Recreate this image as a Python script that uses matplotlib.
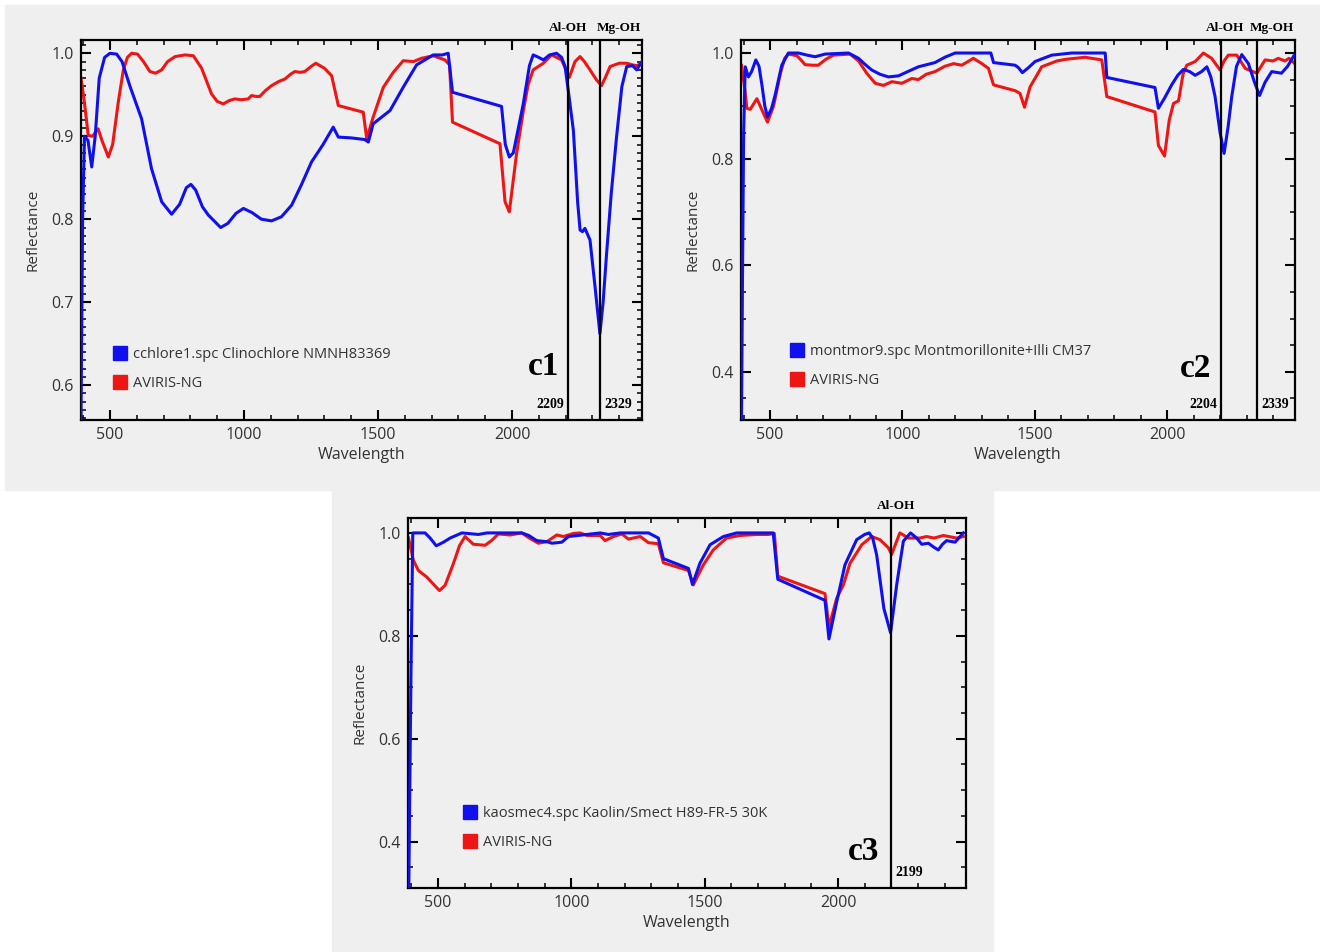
import matplotlib
matplotlib.use("Agg")
import matplotlib.pyplot as plt
from matplotlib.lines import Line2D
from matplotlib.patches import Rectangle
from matplotlib.ticker import MultipleLocator, FormatStrFormatter
import matplotlib.transforms as mtransforms

# ---- c1: Clinochlore ----
c1_lib_w = [392, 398, 405, 418, 432, 445, 460, 480, 500, 525, 545, 575, 618, 655, 693, 730,
            760, 785, 802, 820, 845, 867, 913, 940, 970, 998, 1030, 1065, 1103, 1140, 1178,
            1215, 1252, 1295, 1333, 1352, 1400, 1451, 1464, 1482, 1545, 1594, 1644, 1706,
            1740, 1762, 1778, 1961, 1975, 1990, 2005, 2042, 2065, 2079, 2100, 2117, 2140,
            2166, 2185, 2198, 2212, 2229, 2245, 2254, 2263, 2272, 2291, 2310, 2328, 2340,
            2353, 2370, 2390, 2410, 2428, 2450, 2465, 2485]
c1_lib_r = [0.56, 0.80, 0.90, 0.895, 0.863, 0.90, 0.97, 0.995, 1.0, 0.999, 0.99, 0.96, 0.921,
            0.861, 0.821, 0.806, 0.818, 0.838, 0.842, 0.835, 0.815, 0.805, 0.79, 0.795, 0.807,
            0.813, 0.808, 0.80, 0.798, 0.803, 0.817, 0.842, 0.869, 0.89, 0.911, 0.899, 0.898,
            0.896, 0.893, 0.915, 0.931, 0.959, 0.986, 0.998, 0.998, 1.0, 0.953, 0.936, 0.89,
            0.875, 0.88, 0.939, 0.985, 0.998, 0.995, 0.992, 0.998, 1.0, 0.995, 0.984, 0.95,
            0.907, 0.82, 0.787, 0.785, 0.789, 0.775, 0.718, 0.662, 0.70, 0.759, 0.83, 0.899,
            0.96, 0.984, 0.985, 0.98, 0.99]
c1_img_w = [392, 405, 419, 435, 456, 470, 494, 510, 531, 550, 565, 581, 603, 625, 649, 670,
            693, 715, 743, 780, 811, 842, 879, 900, 923, 945, 966, 990, 1016, 1028, 1045,
            1059, 1080, 1103, 1130, 1153, 1175, 1190, 1210, 1227, 1250, 1268, 1300, 1327,
            1352, 1445, 1458, 1482, 1520, 1557, 1594, 1632, 1663, 1706, 1750, 1767, 1778,
            1955, 1974, 1982, 1990, 2017, 2042, 2060, 2079, 2117, 2148, 2185, 2214, 2235,
            2254, 2270, 2291, 2315, 2334, 2350, 2366, 2400, 2428, 2450, 2465, 2485]
c1_img_r = [0.97, 0.94, 0.901, 0.90, 0.909, 0.895, 0.875, 0.89, 0.941, 0.98, 0.995, 1.0,
            0.999, 0.99, 0.978, 0.976, 0.98, 0.99, 0.996, 0.998, 0.997, 0.982, 0.951, 0.942,
            0.939, 0.943, 0.945, 0.944, 0.945, 0.949, 0.948, 0.948, 0.955, 0.961, 0.966,
            0.969, 0.975, 0.978, 0.977, 0.978, 0.984, 0.988, 0.982, 0.973, 0.937, 0.929,
            0.897, 0.923, 0.959, 0.977, 0.991, 0.99, 0.994, 0.997, 0.992, 0.986, 0.917,
            0.891, 0.821, 0.815, 0.809, 0.879, 0.93, 0.962, 0.98, 0.988, 0.998, 0.992,
            0.971, 0.99, 0.996, 0.99, 0.98, 0.968, 0.961, 0.972, 0.984, 0.988, 0.988,
            0.986, 0.985, 0.988]

# ---- c2: Montmorillonite ----
c2_lib_w = [392, 396, 400, 406, 418, 430, 446, 458, 469, 480, 490, 505, 519, 544, 569, 607,
            640, 670, 708, 796, 834, 860, 884, 915, 947, 985, 1020, 1060, 1123, 1160, 1199,
            1334, 1344, 1426, 1439, 1453, 1475, 1501, 1564, 1640, 1766, 1772, 1954, 1967,
            1990, 2017, 2040, 2061, 2085, 2106, 2130, 2150, 2165, 2181, 2200, 2215, 2230,
            2244, 2262, 2282, 2307, 2330, 2349, 2370, 2395, 2432, 2455, 2480]
c2_lib_r = [0.31, 0.60, 0.85, 0.974, 0.955, 0.965, 0.987, 0.975, 0.94, 0.90, 0.88, 0.895,
            0.921, 0.977, 1.0, 1.0, 0.996, 0.993, 0.998, 1.0, 0.99, 0.978, 0.968, 0.96,
            0.955, 0.957, 0.965, 0.974, 0.982, 0.992, 1.0, 1.0, 0.982, 0.977, 0.972, 0.963,
            0.972, 0.984, 0.996, 1.0, 1.0, 0.954, 0.935, 0.896, 0.915, 0.94, 0.958, 0.969,
            0.965, 0.958, 0.965, 0.974, 0.955, 0.918, 0.85, 0.811, 0.86, 0.918, 0.975,
            0.997, 0.98, 0.945, 0.92, 0.945, 0.965, 0.962, 0.975, 0.996]
c2_img_w = [392, 405, 412, 425, 450, 469, 490, 513, 538, 555, 569, 601, 620, 632, 660, 682,
            710, 739, 802, 834, 865, 897, 928, 960, 998, 1035, 1060, 1090, 1123, 1160, 1193,
            1224, 1268, 1300, 1325, 1344, 1426, 1444, 1461, 1482, 1526, 1583, 1615, 1652,
            1690, 1715, 1753, 1772, 1954, 1967, 1990, 2008, 2024, 2043, 2060, 2074, 2106,
            2137, 2168, 2200, 2215, 2231, 2263, 2295, 2339, 2370, 2400, 2420, 2445, 2460,
            2480]
c2_img_r = [0.977, 0.93, 0.896, 0.894, 0.914, 0.893, 0.87, 0.90, 0.96, 0.99, 0.998, 0.995,
            0.985, 0.978, 0.977, 0.977, 0.988, 0.996, 0.998, 0.985, 0.962, 0.943, 0.939,
            0.946, 0.943, 0.952, 0.95, 0.96, 0.965, 0.975, 0.98, 0.977, 0.99, 0.98, 0.971,
            0.94, 0.929, 0.924, 0.898, 0.936, 0.974, 0.985, 0.988, 0.99, 0.992, 0.99, 0.987,
            0.918, 0.889, 0.826, 0.806, 0.874, 0.905, 0.91, 0.96, 0.977, 0.984, 1.0, 0.99,
            0.968, 0.985, 0.996, 0.996, 0.971, 0.962, 0.987, 0.985, 0.99, 0.985, 0.99, 0.981]

# ---- c3: Kaolin/Smectite ----
c3_lib_w = [390, 398, 405, 451, 470, 493, 520, 545, 589, 651, 683, 814, 840, 870, 908, 927,
            964, 989, 1058, 1108, 1139, 1183, 1289, 1326, 1345, 1439, 1454, 1482, 1520,
            1570, 1620, 1757, 1774, 1951, 1966, 1995, 2026, 2070, 2100, 2117, 2130, 2145,
            2172, 2197, 2220, 2245, 2272, 2295, 2314, 2339, 2360, 2376, 2392, 2407, 2439,
            2470]
c3_lib_r = [0.31, 0.72, 1.0, 1.0, 0.99, 0.975, 0.982, 0.99, 1.0, 0.997, 1.0, 1.0, 0.995,
            0.985, 0.983, 0.98, 0.982, 0.993, 0.997, 1.0, 0.997, 1.0, 1.0, 0.99, 0.95, 0.931,
            0.90, 0.941, 0.977, 0.993, 1.0, 1.0, 0.91, 0.869, 0.794, 0.866, 0.938, 0.987,
            0.997, 1.0, 0.99, 0.957, 0.853, 0.806, 0.899, 0.984, 1.0, 0.99, 0.978, 0.98,
            0.972, 0.967, 0.978, 0.985, 0.982, 1.0]
c3_img_w = [389, 407, 426, 458, 483, 505, 526, 557, 580, 601, 632, 676, 700, 726, 770, 814,
            839, 876, 908, 945, 970, 1008, 1033, 1058, 1108, 1126, 1158, 1189, 1214, 1258,
            1289, 1326, 1345, 1439, 1457, 1495, 1532, 1582, 1632, 1695, 1739, 1761, 1774,
            1951, 1966, 1995, 2020, 2045, 2089, 2126, 2157, 2189, 2201, 2220, 2232, 2264,
            2307, 2332, 2360, 2395, 2445, 2470]
c3_img_r = [0.99, 0.947, 0.927, 0.914, 0.90, 0.888, 0.898, 0.94, 0.975, 0.993, 0.978, 0.976,
            0.985, 0.998, 0.996, 1.0, 0.991, 0.98, 0.983, 0.996, 0.993, 0.999, 1.0, 0.995,
            0.995, 0.985, 0.993, 0.998, 0.988, 0.993, 0.981, 0.979, 0.942, 0.927, 0.899,
            0.938, 0.967, 0.99, 0.995, 0.997, 0.997, 0.999, 0.916, 0.882, 0.817, 0.873,
            0.899, 0.941, 0.977, 0.993, 0.987, 0.971, 0.958, 0.984, 1.0, 0.99, 0.99, 0.993,
            0.99, 0.995, 0.99, 0.993]

lib_labels = ["cchlore1.spc Clinochlore NMNH83369",
              "montmor9.spc Montmorillonite+Illi CM37",
              "kaosmec4.spc Kaolin/Smect H89-FR-5 30K"]
img_label = "AVIRIS-NG"
panel_names = ["c1", "c2", "c3"]

# absorption features: (wavelength, name, name x position, number side)
c1_features = [(2209, "Al-OH", 2209, "left"), (2329, "Mg-OH", 2400, "right")]
c2_features = [(2204, "Al-OH", 2219, "left"), (2339, "Mg-OH", 2397, "right")]
c3_features = [(2199, "Al-OH", 2217, "right")]

BG = "#efefef"
SANS = "Open Sans"
SERIF = "Liberation Serif"

W, H = 1320, 952
fig = plt.figure(figsize=(W / 100, H / 100), dpi=100, facecolor="white")

# gray panel backgrounds
fig.add_artist(Rectangle((5 / W, 1 - 490 / H), 1 - 5 / W, 485 / H,
                         transform=fig.transFigure, color=BG, zorder=-10))
fig.add_artist(Rectangle((332 / W, 0), 661 / W, 1 - 490 / H,
                         transform=fig.transFigure, color=BG, zorder=-10))


def make_panel(box, lib_w, lib_r, img_w, img_r, lib_label, name, features,
               xlim, ylim, ymaj, ymin, name_xy, leg_anchor):
    l, t, r, b = box
    ax = fig.add_axes([l / W, 1 - b / H, (r - l) / W, (b - t) / H])
    ax.set_facecolor(BG)
    ax.plot(lib_w, lib_r, color="#1010ee", lw=2.2, zorder=3, solid_joinstyle="round")
    ax.plot(img_w, img_r, color="#ee1515", lw=2.2, zorder=2, solid_joinstyle="round")
    ax.set_xlim(*xlim)
    ax.set_ylim(*ylim)

    ax.xaxis.set_major_locator(MultipleLocator(500))
    ax.xaxis.set_minor_locator(MultipleLocator(100))
    ax.yaxis.set_major_locator(MultipleLocator(ymaj))
    ax.yaxis.set_minor_locator(MultipleLocator(ymin))
    ax.yaxis.set_major_formatter(FormatStrFormatter("%.1f"))
    ax.tick_params(which="both", direction="in", top=True, right=True,
                   colors="black", labelcolor="#333333", labelsize=11.5, pad=5)
    ax.tick_params(which="major", length=7, width=1.5)
    ax.tick_params(which="minor", length=3.5, width=1.1)
    for lab in ax.get_xticklabels() + ax.get_yticklabels():
        lab.set_fontfamily(SANS)
    for s in ax.spines.values():
        s.set_linewidth(1.6)

    ax.set_xlabel("Wavelength", fontsize=11.5, family=SANS, color="#333333", labelpad=3)
    ax.set_ylabel("Reflectance", fontsize=11, family=SANS, color="#333333", labelpad=8)

    trans = mtransforms.blended_transform_factory(ax.transData, ax.transAxes)
    for wl, fname, fx, side in features:
        ax.axvline(wl, color="black", lw=1.6, zorder=4)
        ax.text(fx, 1.015, fname, transform=trans, ha="center", va="bottom",
                family=SERIF, fontweight="bold", fontsize=9.5, clip_on=False)
        dx = -3 if side == "left" else 3
        ax.annotate(str(wl), xy=(wl, 0.025), xycoords=trans, xytext=(dx, 0),
                    textcoords="offset points", ha="right" if side == "left" else "left",
                    va="bottom", family=SERIF, fontweight="bold", fontsize=10)

    ax.text(name_xy[0], name_xy[1], name, ha="center", va="center",
            family=SERIF, fontweight="bold", fontsize=24)

    handles = [Line2D([0], [0], marker="s", ls="none", color="#1010ee", markersize=9.5),
               Line2D([0], [0], marker="s", ls="none", color="#ee1515", markersize=9.5)]
    leg = ax.legend(handles, [lib_label, img_label], loc="center left",
                    bbox_to_anchor=leg_anchor, frameon=False, borderpad=0,
                    handlelength=1.0, handletextpad=0.4, labelspacing=1.0,
                    prop={"family": SANS, "size": 10.5})
    for txt in leg.get_texts():
        txt.set_color("#333333")
    return ax


make_panel((81, 40, 642, 420), c1_lib_w, c1_lib_r, c1_img_w, c1_img_r, lib_labels[0],
           panel_names[0], c1_features, (392, 2485), (0.558, 1.016), 0.1, 0.01,
           (2119, 0.623), (0.043, 0.134))
make_panel((741, 40, 1295, 420), c2_lib_w, c2_lib_r, c2_img_w, c2_img_r, lib_labels[1],
           panel_names[1], c2_features, (390, 2483), (0.309, 1.0245), 0.2, 0.05,
           (2109, 0.406), (0.075, 0.142))
make_panel((408, 518, 966, 888), c3_lib_w, c3_lib_r, c3_img_w, c3_img_r, lib_labels[2],
           panel_names[2], c3_features, (387, 2480), (0.31, 1.029), 0.2, 0.05,
           (2094, 0.38), (0.085, 0.162))

fig.savefig("out.png", dpi=100, facecolor=fig.get_facecolor())
